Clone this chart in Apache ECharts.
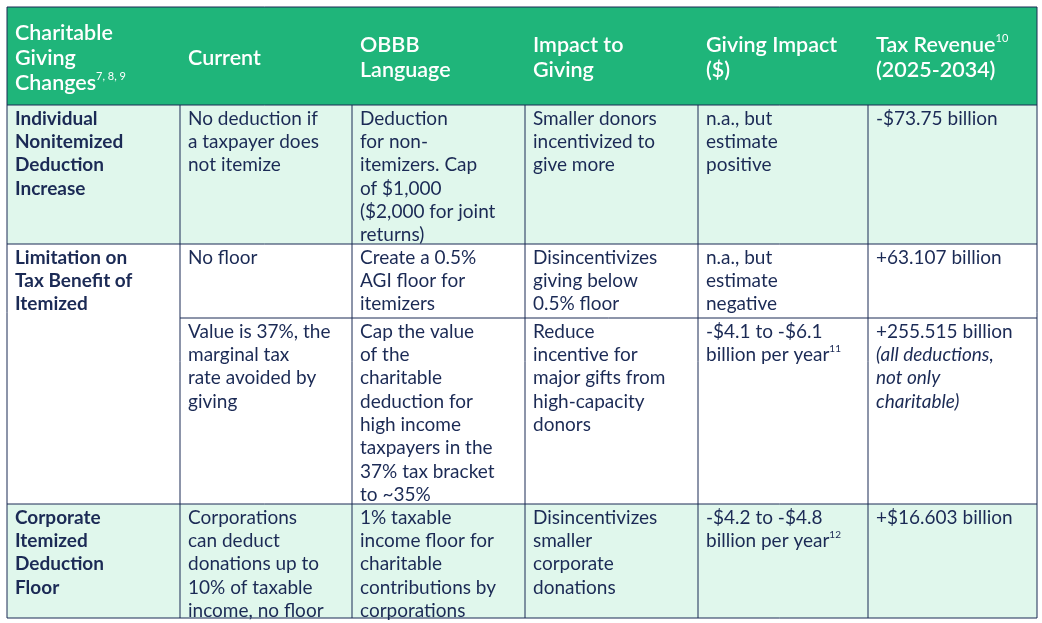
<!DOCTYPE html>
<html><head><meta charset="utf-8">
<script src="https://cdn.jsdelivr.net/npm/echarts@6/dist/echarts.min.js"></script>
<style>html,body{margin:0;padding:0;background:#fff}#main{width:1042px;height:623px}</style>
</head><body><div id="main"></div>
<script>
// table content
const headers = [
    'Charitable\nGiving\nChanges{sup|7, 8, 9}',
    'Current',
    'OBBB\nLanguage',
    'Impact to\nGiving',
    'Giving Impact\n($)',
    'Tax Revenue{sup|10}\n(2025-2034)'
];
const rowLabels = [
    'Individual\nNonitemized\nDeduction\nIncrease',
    'Limitation on\nTax Benefit of\nItemized\nDeduction',
    '',
    'Corporate\nItemized\nDeduction\nFloor'
];
const currentCol = [
    'No deduction if\na taxpayer does\nnot itemize',
    'No floor',
    'Value is 37%, the\nmarginal tax\nrate avoided by\ngiving',
    'Corporations\ncan deduct\ndonations up to\n10% of taxable\nincome, no floor'
];
const obbbCol = [
    'Deduction\nfor non-\nitemizers. Cap\nof $1,000\n($2,000 for joint\nreturns)',
    'Create a 0.5%\nAGI floor for\nitemizers',
    'Cap the value\nof the\ncharitable\ndeduction for\nhigh income\ntaxpayers in the\n37% tax bracket\nto ~35%',
    '1% taxable\nincome floor for\ncharitable\ncontributions by\ncorporations'
];
const impactCol = [
    'Smaller donors\nincentivized to\ngive more',
    'Disincentivizes\ngiving below\n0.5% floor',
    'Reduce\nincentive for\nmajor gifts from\nhigh-capacity\ndonors',
    'Disincentivizes\nsmaller\ncorporate\ndonations'
];
const givingCol = [
    'n.a., but\nestimate\npositive',
    'n.a., but\nestimate\nnegative',
    '-$4.1 to -$6.1\nbillion per year{sup|11}',
    '-$4.2 to -$4.8\nbillion per year{sup|12}'
];
const taxCol = [
    '-$73.75 billion',
    '+63.107 billion',
    '+255.515 billion\n{it|(all deductions,}\n{it|not only}\n{it|charitable)}',
    '+$16.603 billion'
];
const colEdges = [7, 180, 352, 525, 698, 868, 1037];
const rowEdges = [7, 105, 244, 318, 504, 618];
const rowFill = ['#e0f7ec', '#ffffff', '#ffffff', '#e0f7ec'];

const navy = '#1b2a55';
const green = '#1fb57a';
const font = 'Lato, "Noto Sans", sans-serif';
const els = [];

// header
els.push({type: 'rect', shape: {x: colEdges[0], y: rowEdges[0], width: colEdges[6] - colEdges[0], height: rowEdges[1] - rowEdges[0]}, style: {fill: green}});
headers.forEach((h, i) => {
    els.push({type: 'text', x: colEdges[i] + 8, y: (rowEdges[0] + rowEdges[1]) / 2 + 2,
        style: {text: h, fill: '#fff', font: '600 21.5px ' + font, lineHeight: 25, verticalAlign: 'middle',
            rich: {sup: {fontSize: 11, fill: '#fff', verticalAlign: 'top', padding: [0, 0, 10, 0], fontFamily: font}}}});
});

// body rows
const cols = [rowLabels, currentCol, obbbCol, impactCol, givingCol, taxCol];
for (let r = 0; r < 4; r++) {
    els.push({type: 'rect', shape: {x: colEdges[0], y: rowEdges[r + 1], width: colEdges[6] - colEdges[0], height: rowEdges[r + 2] - rowEdges[r + 1]}, style: {fill: rowFill[r]}});
    cols.forEach((col, c) => {
        if (!col[r]) return;
        els.push({type: 'text', x: colEdges[c] + 8, y: rowEdges[r + 1] + 2,
            style: {text: col[r], fill: navy, font: (c === 0 ? 'bold ' : '') + '19px ' + font, lineHeight: 23.3,
                rich: {
                    sup: {fontSize: 10, fill: navy, verticalAlign: 'top', padding: [0, 0, 10, 0], fontFamily: font},
                    it: {fontStyle: 'italic', fontSize: 19, fill: navy, fontFamily: font}
                }}});
    });
}

// grid lines
const line = (x1, y1, x2, y2) => els.push({type: 'line', shape: {x1, y1, x2, y2}, style: {stroke: navy, lineWidth: 1}});
[1, 2, 4, 5].forEach(i => line(colEdges[0], rowEdges[i], colEdges[6], rowEdges[i]));
line(colEdges[1], rowEdges[3], colEdges[6], rowEdges[3]);
colEdges.forEach((x, i) => line(x, rowEdges[i === 0 || i === 6 ? 0 : 1], x, rowEdges[5]));
line(colEdges[0], rowEdges[0], colEdges[6], rowEdges[0]);

const chart = echarts.init(document.getElementById('main'));
chart.setOption({animation: false, graphic: {elements: els}});
</script></body></html>
